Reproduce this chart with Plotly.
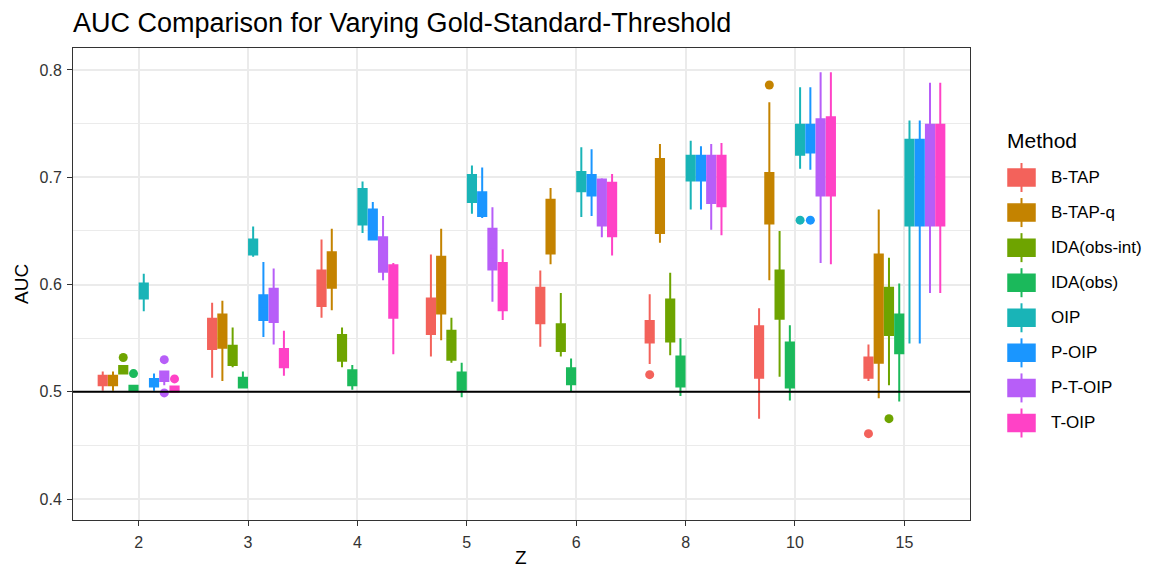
import plotly.graph_objects as go

# ---- data -------------------------------------------------------------
z_levels = ["2", "3", "4", "5", "6", "8", "10", "15"]
methods = ["B-TAP", "B-TAP-q", "IDA(obs-int)", "IDA(obs)", "OIP", "P-OIP", "P-T-OIP", "T-OIP"]
colors = ["#F3625B", "#C48300", "#6EA400", "#1BB95B", "#19B4B7", "#1A96FF", "#B75EF8", "#FF42C6"]

q1 = {
    "B-TAP":        [0.506, 0.540, 0.580, 0.554, 0.564, 0.546, 0.513, 0.513],
    "B-TAP-q":      [0.506, 0.541, 0.597, 0.573, 0.629, 0.648, 0.657, 0.527],
    "IDA(obs-int)": [0.517, 0.525, 0.529, 0.530, 0.538, 0.547, 0.568, 0.553],
    "IDA(obs)":     [0.5016, 0.504, 0.506, 0.502, 0.507, 0.505, 0.504, 0.536],
    "OIP":          [0.587, 0.628, 0.656, 0.677, 0.687, 0.697, 0.721, 0.655],
    "P-OIP":        [0.505, 0.567, 0.642, 0.664, 0.683, 0.697, 0.723, 0.655],
    "P-T-OIP":      [0.510, 0.565, 0.612, 0.614, 0.655, 0.676, 0.683, 0.655],
    "T-OIP":        [0.5001, 0.523, 0.569, 0.576, 0.645, 0.673, 0.683, 0.655],
}
median = {
    "B-TAP":        [0.510, 0.553, 0.596, 0.570, 0.580, 0.556, 0.537, 0.522],
    "B-TAP-q":      [0.510, 0.556, 0.613, 0.599, 0.654, 0.682, 0.680, 0.577],
    "IDA(obs-int)": [0.520, 0.534, 0.541, 0.543, 0.550, 0.566, 0.590, 0.575],
    "IDA(obs)":     [0.504, 0.508, 0.513, 0.510, 0.514, 0.519, 0.525, 0.554],
    "OIP":          [0.594, 0.635, 0.672, 0.689, 0.696, 0.708, 0.735, 0.695],
    "P-OIP":        [0.508, 0.578, 0.656, 0.675, 0.692, 0.708, 0.736, 0.695],
    "P-T-OIP":      [0.514, 0.580, 0.628, 0.633, 0.676, 0.698, 0.718, 0.702],
    "T-OIP":        [0.503, 0.531, 0.593, 0.598, 0.670, 0.696, 0.719, 0.702],
}
q3 = {
    "B-TAP":        [0.515, 0.568, 0.613, 0.587, 0.597, 0.566, 0.561, 0.532],
    "B-TAP-q":      [0.515, 0.572, 0.630, 0.626, 0.679, 0.717, 0.704, 0.628],
    "IDA(obs-int)": [0.524, 0.543, 0.553, 0.557, 0.563, 0.586, 0.613, 0.597],
    "IDA(obs)":     [0.5056, 0.513, 0.520, 0.518, 0.522, 0.533, 0.546, 0.572],
    "OIP":          [0.601, 0.642, 0.689, 0.702, 0.705, 0.720, 0.749, 0.735],
    "P-OIP":        [0.512, 0.590, 0.670, 0.686, 0.702, 0.720, 0.749, 0.735],
    "P-T-OIP":      [0.519, 0.596, 0.644, 0.652, 0.698, 0.720, 0.754, 0.749],
    "T-OIP":        [0.505, 0.540, 0.618, 0.620, 0.695, 0.720, 0.756, 0.749],
}
lower = {
    "B-TAP":        [0.501, 0.513, 0.569, 0.533, 0.542, 0.526, 0.475, 0.510],
    "B-TAP-q":      [0.501, 0.510, 0.576, 0.548, 0.619, 0.639, 0.604, 0.494],
    "IDA(obs-int)": [0.517, 0.523, 0.523, 0.527, 0.533, 0.534, 0.514, 0.506],
    "IDA(obs)":     [0.501, 0.503, 0.502, 0.495, 0.500, 0.496, 0.492, 0.491],
    "OIP":          [0.575, 0.626, 0.648, 0.666, 0.663, 0.670, 0.708, 0.545],
    "P-OIP":        [0.501, 0.551, 0.641, 0.662, 0.664, 0.670, 0.707, 0.545],
    "P-T-OIP":      [0.506, 0.544, 0.604, 0.584, 0.644, 0.651, 0.620, 0.592],
    "T-OIP":        [0.5001, 0.515, 0.535, 0.567, 0.627, 0.646, 0.619, 0.592],
}
upper = {
    "B-TAP":        [0.519, 0.583, 0.642, 0.628, 0.613, 0.591, 0.578, 0.544],
    "B-TAP-q":      [0.519, 0.585, 0.652, 0.652, 0.690, 0.731, 0.770, 0.670],
    "IDA(obs-int)": [0.524, 0.560, 0.560, 0.569, 0.592, 0.611, 0.650, 0.625],
    "IDA(obs)":     [0.5056, 0.519, 0.525, 0.527, 0.531, 0.550, 0.562, 0.601],
    "OIP":          [0.610, 0.654, 0.696, 0.711, 0.728, 0.734, 0.784, 0.753],
    "P-OIP":        [0.517, 0.621, 0.677, 0.709, 0.726, 0.729, 0.784, 0.753],
    "P-T-OIP":      [0.519, 0.615, 0.664, 0.672, 0.699, 0.731, 0.798, 0.788],
    "T-OIP":        [0.505, 0.557, 0.620, 0.633, 0.703, 0.732, 0.798, 0.788],
}
outlier_z = {
    "B-TAP": ["8", "15"],
    "B-TAP-q": ["10"],
    "IDA(obs-int)": ["2", "15"],
    "IDA(obs)": ["2"],
    "OIP": ["10"],
    "P-OIP": ["10"],
    "P-T-OIP": ["2", "2"],
    "T-OIP": ["2"],
}
outlier_auc = {
    "B-TAP": [0.516, 0.461],
    "B-TAP-q": [0.786],
    "IDA(obs-int)": [0.532, 0.475],
    "IDA(obs)": [0.517],
    "OIP": [0.660],
    "P-OIP": [0.660],
    "P-T-OIP": [0.530, 0.499],
    "T-OIP": [0.512],
}

# ---- geometry ---------------------------------------------------------
W, H = 1149, 570
PX0, PX1, PY0, PY1 = 73, 970, 48, 520      # panel box in pixels
DODGE = 0.75                               # total dodge width per Z group
n_m = len(methods)
slot = DODGE / n_m
FONT = "Liberation Sans, Arial, Helvetica, sans-serif"


def dodge_x(z, mi):
    return z_levels.index(z) + 1 + (mi - (n_m - 1) / 2) * slot


def px(x):
    return (x - PX0) / (PX1 - PX0)


def py(y):
    return (PY1 - y) / (PY1 - PY0)


fig = go.Figure()

for mi, m in enumerate(methods):
    c = colors[mi]
    fig.add_trace(go.Box(
        x=[dodge_x(z, mi) for z in z_levels],
        q1=q1[m], median=median[m], q3=q3[m],
        lowerfence=lower[m], upperfence=upper[m],
        width=slot - 0.019,
        whiskerwidth=0,
        fillcolor=c,
        line=dict(color=c, width=2),
        marker=dict(color=c),
        name=m,
        showlegend=False,
        hoverinfo="skip",
    ))
    fig.add_trace(go.Scatter(
        x=[dodge_x(z, mi) for z in outlier_z[m]],
        y=outlier_auc[m],
        mode="markers",
        marker=dict(color=c, size=9, line=dict(width=0)),
        showlegend=False,
        hoverinfo="skip",
    ))

# reference line at AUC = 0.5
fig.add_shape(type="line", xref="paper", yref="y", x0=0, x1=1, y0=0.5, y1=0.5,
              line=dict(color="black", width=2), layer="above")

# axis titles
annotations = [
    dict(text="Z", x=px(521), y=py(557), xref="paper", yref="paper",
         xanchor="center", yanchor="middle", showarrow=False,
         font=dict(size=19, color="black", family=FONT)),
    dict(text="AUC", x=px(21), y=py(284), xref="paper", yref="paper", textangle=-90,
         xanchor="center", yanchor="middle", showarrow=False,
         font=dict(size=19, color="black", family=FONT)),
]

# legend drawn as boxplot keys
shapes = []
annotations.append(dict(text="Method", x=px(1005), y=py(140), xref="paper", yref="paper",
                        xanchor="left", yanchor="middle", showarrow=False,
                        font=dict(size=21, color="black", family=FONT)))
for mi, m in enumerate(methods):
    c = colors[mi]
    cy = 177.5 + 35.07 * mi
    shapes.append(dict(type="line", xref="paper", yref="paper",
                       x0=px(1021.5), x1=px(1021.5), y0=py(cy - 14.5), y1=py(cy + 14.5),
                       line=dict(color=c, width=2)))
    shapes.append(dict(type="rect", xref="paper", yref="paper",
                       x0=px(1008), x1=px(1035), y0=py(cy - 8.5), y1=py(cy + 8.5),
                       fillcolor=c, line=dict(color=c, width=1.5)))
    annotations.append(dict(text=m, x=px(1049), y=py(cy), xref="paper", yref="paper",
                            xanchor="left", yanchor="middle", showarrow=False,
                            font=dict(size=17, color="black", family=FONT)))
for s in shapes:
    fig.add_shape(**s)

fig.update_layout(
    width=W, height=H,
    margin=dict(l=PX0, r=W - PX1, t=PY0, b=H - PY1, pad=0, autoexpand=False),
    paper_bgcolor="white", plot_bgcolor="white",
    font=dict(family=FONT, color="black"),
    title=dict(text="AUC Comparison for Varying Gold-Standard-Threshold",
               x=px(73), xref="paper", xanchor="left",
               y=1 - 23 / H, yanchor="middle", font=dict(size=27, color="black")),
    showlegend=False,
    annotations=annotations,
    xaxis=dict(
        range=[0.4, len(z_levels) + 0.6], automargin=False,
        tickmode="array", tickvals=list(range(1, len(z_levels) + 1)), ticktext=z_levels,
        showgrid=True, gridcolor="#EBEBEB", gridwidth=1.5, zeroline=False,
        showline=True, mirror=True, linecolor="#333333", linewidth=1,
        ticks="outside", ticklen=5, tickcolor="#333333", ticklabelstandoff=3,
        tickfont=dict(size=16, color="#333333"),
    ),
    yaxis=dict(
        range=[0.3805, 0.8205], automargin=False,
        tickmode="linear", tick0=0.4, dtick=0.1, tickformat=".1f",
        showgrid=True, gridcolor="#EBEBEB", gridwidth=1.5, zeroline=False,
        minor=dict(showgrid=True, gridcolor="#EBEBEB", gridwidth=1.2, dtick=0.05, tick0=0.45),
        showline=True, mirror=True, linecolor="#333333", linewidth=1,
        ticks="outside", ticklen=5, tickcolor="#333333", ticklabelstandoff=2,
        tickfont=dict(size=16, color="#333333"),
    ),
)

fig.write_html("out.html")
